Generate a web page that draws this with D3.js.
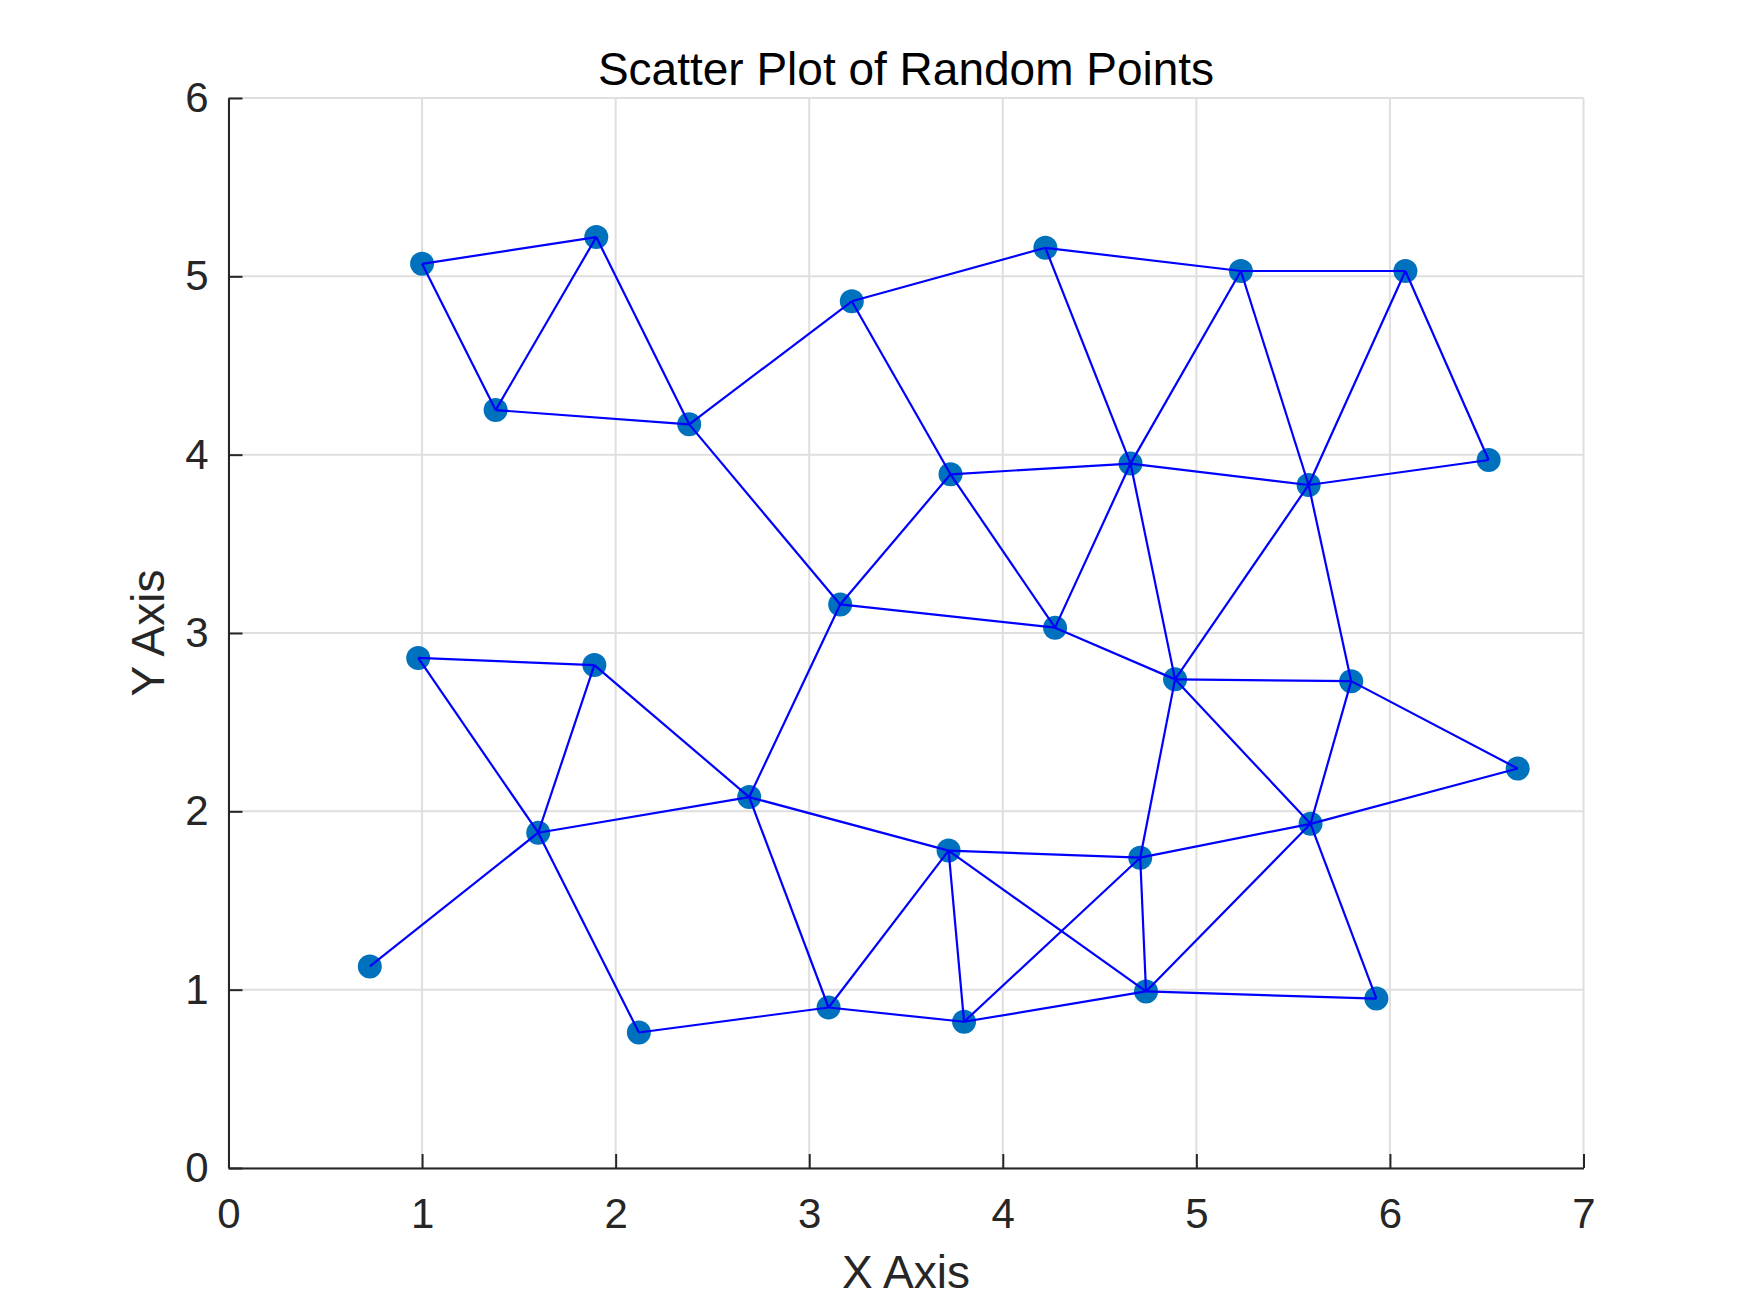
<!DOCTYPE html>
<html>
<head>
<meta charset="utf-8">
<script src="https://cdn.jsdelivr.net/npm/d3@7"></script>
<style>
  html, body { margin: 0; padding: 0; background: #ffffff; }
  svg { display: block; font-family: "Liberation Sans", Arial, Helvetica, sans-serif; }
</style>
</head>
<body>
<svg id="chart" width="1750" height="1313"></svg>
<script>
// ---- data ----
const pointX = [0.73, 0.98, 1.00, 1.38, 1.90, 1.89, 1.60, 2.12, 2.38, 2.69,
                3.10, 3.16, 3.22, 3.72, 3.73, 3.80, 4.22, 4.27, 4.66, 4.71,
                4.74, 4.89, 5.23, 5.58, 5.59, 5.80, 5.93, 6.08, 6.51, 6.66];
const pointY = [1.13, 2.86, 5.07, 4.25, 5.22, 2.82, 1.88, 0.76, 4.17, 2.08,
                0.90, 3.16, 4.86, 1.78, 3.89, 0.82, 5.16, 3.03, 3.95, 1.74,
                0.99, 2.74, 5.03, 3.83, 1.93, 2.73, 0.95, 5.03, 3.97, 2.24];
// edges as point indices (1-based numbering of the lists above)
const edgeFrom = [1, 2, 2, 6, 6, 7, 7, 8, 10, 10, 10, 11, 11, 14, 14, 14, 16, 16, 20, 20, 20,
                  21, 21, 25, 25, 25, 22, 22, 26, 26, 22, 22, 22, 18, 18, 18, 15, 15, 15, 12,
                  9, 9, 9, 4, 4, 3, 13, 17, 17, 19, 19, 23, 23, 24, 24, 28];
const edgeTo   = [7, 6, 7, 7, 10, 10, 8, 11, 11, 12, 14, 14, 16, 16, 20, 21, 20, 21, 21, 22, 25,
                  25, 27, 27, 26, 30, 25, 26, 30, 24, 24, 19, 18, 12, 15, 19, 12, 19, 13, 9,
                  4, 13, 5, 3, 5, 5, 17, 23, 19, 23, 24, 28, 24, 28, 29, 29];
const xTicks = [0, 1, 2, 3, 4, 5, 6, 7];
const yTicks = [0, 1, 2, 3, 4, 5, 6];
const titleText = "Scatter Plot of Random Points";
const xLabelText = "X Axis";
const yLabelText = "Y Axis";

// ---- layout ----
const plotLeft = 228.5, plotRight = 1583.5, plotTop = 98, plotBottom = 1168;
const axisColor = "#262626";
const gridColor = "#dfdfdf";

const svg = d3.select("#chart");
svg.append("rect").attr("width", 1750).attr("height", 1313).attr("fill", "#ffffff");

const x = d3.scaleLinear().domain([0, 7]).range([plotLeft, plotRight]);
const y = d3.scaleLinear().domain([0, 6]).range([plotBottom, plotTop]);

// grid
const grid = svg.append("g");
grid.selectAll("line.vx").data(xTicks).join("line").attr("class", "vx")
  .attr("x1", d => x(d)).attr("x2", d => x(d))
  .attr("y1", plotTop).attr("y2", plotBottom)
  .attr("stroke", gridColor).attr("stroke-width", 2);
grid.selectAll("line.hy").data(yTicks).join("line").attr("class", "hy")
  .attr("y1", d => y(d)).attr("y2", d => y(d))
  .attr("x1", plotLeft).attr("x2", plotRight)
  .attr("stroke", gridColor).attr("stroke-width", 2);

// axes
const xAxis = d3.axisBottom(x).tickValues(xTicks).tickFormat(d3.format("d"))
  .tickSizeInner(-14).tickSizeOuter(0).tickPadding(30);
const yAxis = d3.axisLeft(y).tickValues(yTicks).tickFormat(d3.format("d"))
  .tickSizeInner(-14).tickSizeOuter(0).tickPadding(20);

const gx = svg.append("g").attr("transform", `translate(0,${plotBottom})`).call(xAxis);
const gy = svg.append("g").attr("transform", `translate(${plotLeft},0)`).call(yAxis);
[gx, gy].forEach(g => {
  g.select(".domain").attr("stroke", axisColor).attr("stroke-width", 2);
  g.selectAll(".tick line").attr("stroke", axisColor).attr("stroke-width", 2);
  g.selectAll(".tick text").attr("fill", axisColor)
    .style("font-size", "42px")
    .style("font-family", "'Liberation Sans', Arial, sans-serif");
});

// markers
const pts = pointX.map((v, i) => ({ x: v, y: pointY[i] }));
svg.append("g").selectAll("circle").data(pts).join("circle")
  .attr("cx", d => x(d.x)).attr("cy", d => y(d.y))
  .attr("r", 12).attr("fill", "#0072BD");

// connecting lines (drawn on top of markers)
const edges = edgeFrom.map((a, i) => [pts[a - 1], pts[edgeTo[i] - 1]]);
svg.append("g").selectAll("line").data(edges).join("line")
  .attr("x1", d => x(d[0].x)).attr("y1", d => y(d[0].y))
  .attr("x2", d => x(d[1].x)).attr("y2", d => y(d[1].y))
  .attr("stroke", "#0000ff").attr("stroke-width", 2.2);

// texts
svg.append("text").attr("x", (plotLeft + plotRight) / 2).attr("y", 85)
  .attr("text-anchor", "middle").attr("fill", "#000000")
  .style("font-size", "46px").text(titleText);
svg.append("text").attr("x", (plotLeft + plotRight) / 2).attr("y", 1288)
  .attr("text-anchor", "middle").attr("fill", axisColor)
  .style("font-size", "46px").text(xLabelText);
svg.append("text")
  .attr("transform", `translate(164,${(plotTop + plotBottom) / 2}) rotate(-90)`)
  .attr("text-anchor", "middle").attr("fill", axisColor)
  .style("font-size", "46px").text(yLabelText);
</script>
</body>
</html>
